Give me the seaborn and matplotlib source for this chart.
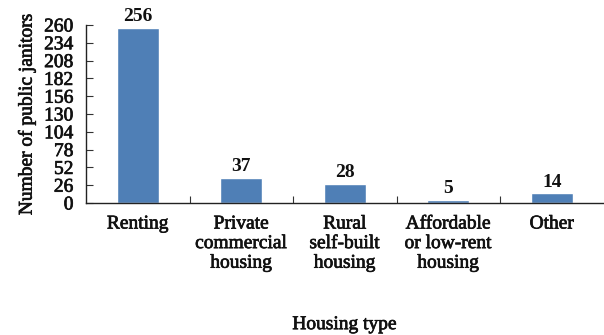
import matplotlib
matplotlib.use("Agg")
import matplotlib.pyplot as plt
import matplotlib.patheffects as pe
import seaborn as sns
import pandas as pd
import numpy as np

categories = ["Renting", "Private\ncommercial\nhousing", "Rural\nself-built\nhousing",
              "Affordable\nor low-rent\nhousing", "Other"]
counts = [256, 37, 28, 5, 14]
y_ticks = [0, 26, 52, 78, 104, 130, 156, 182, 208, 234, 260]

sns.set_style("white")
plt.rcParams["font.family"] = ["Liberation Serif", "DejaVu Serif"]

df = pd.DataFrame({"category": categories, "count": counts})

fig = plt.figure(figsize=(6.04, 3.35), dpi=100)
ax = fig.add_axes([86 / 604, 1 - 203 / 335, (603.5 - 86) / 604, (203 - 25) / 335])

sns.barplot(data=df, x="category", y="count", color="#4F7FB6", width=0.41,
            saturation=1, ax=ax)

fs = 14
ink = "#111111"
heavy = [pe.withStroke(linewidth=0.5, foreground=ink)]

ax.set_ylim(0, 260)
ax.set_xlim(-0.5, len(categories) - 0.5)
ax.set_yticks(y_ticks)
ax.set_yticklabels([str(v) for v in y_ticks], fontsize=fs)
ax.tick_params(axis="y", direction="in", length=5, width=0.8, color="#333333",
               pad=9, left=True, labelcolor=ink)
ax.tick_params(axis="x", which="major", length=0, pad=9, labelsize=fs, labelcolor=ink)
ax.set_xticks(np.arange(0.5, len(categories) - 0.5, 1), minor=True)
ax.tick_params(axis="x", which="minor", direction="in", length=5, width=0.8,
               color="#333333", bottom=True)

for s in ["top", "right"]:
    ax.spines[s].set_visible(False)
for s in ["left", "bottom"]:
    ax.spines[s].set_color("#222222")
    ax.spines[s].set_linewidth(1.0)

for i, v in enumerate(counts):
    ax.text(i, v + 4, str(v), ha="center", va="bottom", fontsize=fs,
            fontweight="bold", color=ink)

ax.set_xlabel("Housing type", fontsize=fs, labelpad=32, color=ink)
ax.set_ylabel("Number of public janitors", fontsize=fs, labelpad=6, color=ink)

for t in ax.get_xticklabels() + ax.get_yticklabels() + [ax.xaxis.label, ax.yaxis.label]:
    t.set_path_effects(heavy)

fig.savefig("out.png", dpi=100)
